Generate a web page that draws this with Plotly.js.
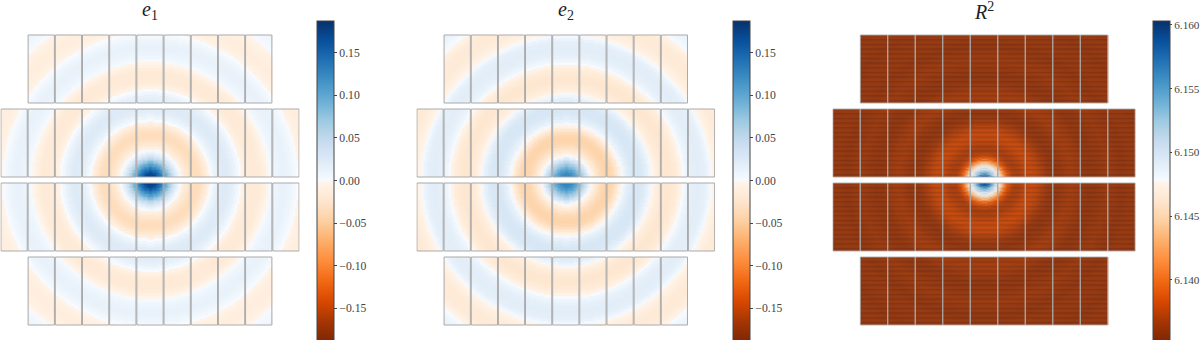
<!DOCTYPE html>
<html>
<head>
<meta charset="utf-8">
<script src="https://cdn.plot.ly/plotly-3.0.1.min.js"></script>
<style>
    html, body { margin: 0; padding: 0; background: #fff; }
    #chart { width: 1200px; height: 340px; }
</style>
</head>
<body>
<div id="chart"></div>
<script>
// ring values, one every ringStep from the focal plane centre
var ringStep = 3;
var e1Rings = [
    0.188, 0.184, 0.172, 0.152, 0.130, 0.105, 0.080, 0.055, 0.033, 0.015, 0.001,
    -0.010, -0.019, -0.026, -0.031, -0.033, -0.032, -0.027, -0.019, -0.009, 0.000,
    0.008, 0.015, 0.020, 0.023, 0.024, 0.023, 0.019, 0.014, 0.007, 0.000,
    -0.006, -0.011, -0.015, -0.017, -0.017, -0.016, -0.013, -0.008, -0.002, 0.003,
    0.007, 0.010, 0.012, 0.013, 0.013, 0.011, 0.008, 0.004, 0.000, -0.004,
    -0.007, -0.009, -0.011, -0.011, -0.010, -0.008, -0.006, -0.002, 0.001, 0.004,
    0.006, 0.008, 0.008, 0.008
];
var e2Rings = [
    0.135, 0.132, 0.124, 0.110, 0.092, 0.072, 0.050, 0.028, 0.006, -0.008, -0.020,
    -0.030, -0.037, -0.041, -0.042, -0.039, -0.032, -0.020, -0.006, 0.006, 0.015,
    0.022, 0.027, 0.030, 0.030, 0.028, 0.024, 0.017, 0.008, -0.002, -0.009,
    -0.015, -0.019, -0.022, -0.022, -0.021, -0.018, -0.013, -0.006, 0.001, 0.008,
    0.013, 0.017, 0.019, 0.020, 0.019, 0.017, 0.012, 0.005, -0.002, -0.007,
    -0.011, -0.014, -0.016, -0.017, -0.016, -0.014, -0.010, -0.005, 0.001, 0.005,
    0.009, 0.011, 0.012, 0.012
];
var r2Rings = [
    6.1603, 6.1590, 6.1562, 6.1527, 6.1495, 6.1470, 6.1438, 6.1405, 6.1385, 6.1374, 6.1369,
    6.1369, 6.1371, 6.1374, 6.1377, 6.1378, 6.1378, 6.1376, 6.1373, 6.1369, 6.1365,
    6.1362, 6.1360, 6.1359, 6.1360, 6.1361, 6.1363, 6.1365, 6.1366, 6.1366, 6.1365,
    6.1364, 6.1362, 6.1360, 6.1359, 6.1359, 6.1359, 6.1360, 6.1361, 6.1362, 6.1363,
    6.1363, 6.1362, 6.1361, 6.1360, 6.1359, 6.1359, 6.1360, 6.1361, 6.1361, 6.1361,
    6.1361, 6.1360, 6.1360, 6.1359, 6.1359, 6.1360, 6.1360, 6.1361, 6.1361, 6.1361,
    6.1360, 6.1360, 6.1360, 6.1360
];
// the cores change fast, so they are read at half the ring step
var e1CoreRings = [
    0.188, 0.187, 0.184, 0.179, 0.172, 0.163, 0.152, 0.141, 0.130, 0.118,
    0.105, 0.092, 0.080, 0.067, 0.055, 0.044, 0.033, 0.023, 0.015, 0.007
];
var e2CoreRings = [
    0.135, 0.134, 0.132, 0.129, 0.124, 0.118, 0.110, 0.102, 0.092, 0.082,
    0.072, 0.061, 0.050, 0.039, 0.028, 0.017, 0.006, -0.001, -0.008, -0.014
];
var r2CoreRings = [
    6.1603, 6.1598, 6.1590, 6.1578, 6.1562, 6.1545, 6.1527, 6.1510, 6.1495, 6.1482,
    6.1470, 6.1455, 6.1438, 6.1420, 6.1405, 6.1393, 6.1385, 6.1379, 6.1374, 6.1371
];
// the thin horizontal stripes seen on the R2 sensors, repeating row by row
var r2RowStripes = [
    0.0002, 0.0003, -0.0001, -0.0006, 0.0001, 0.0003, 0.0001, -0.0002, -0.0005,
    0.0002, 0.0003, 0.0000, -0.0004, -0.0004
];

// focal plane layout, top row of sensors first
var rowChipCounts = [9, 11, 11, 9];
var rowTops = [145, 71, -3, -77];
var rowBottoms = [77, 3, -71, -145];
var chipWidth = 27.2;

var panelTitles = ['<i>e</i><sub>1</sub>', '<i>e</i><sub>2</sub>', '<i>R</i><sup>2</sup>'];
var panelLeft = [0.5, 416.5, 832.7];
var panelRight = [299.5, 715.1, 1135.3];
var colorbarLeft = [316.7, 733, 1153];
var tickLengths = [3, 3, 2];
var tickFontSizes = [11.7, 11.7, 11.2];

var eTicks = [-0.15, -0.10, -0.05, 0.00, 0.05, 0.10, 0.15];
var eTickText = ['\u22120.15', '\u22120.10', '\u22120.05', '0.00', '0.05', '0.10', '0.15'];
var r2Ticks = [6.140, 6.145, 6.150, 6.155, 6.160];
var r2TickText = ['6.140', '6.145', '6.150', '6.155', '6.160'];

var orangeStops = ['#7f2704', '#a63603', '#d94801', '#f16913', '#fd8d3c', '#fdae6b', '#fdd0a2', '#fee6ce', '#fff5eb'];
var blueStops = ['#f7fbff', '#deebf7', '#c6dbef', '#9ecae1', '#6baed6', '#4292c6', '#2171b5', '#08519c', '#08306b'];

var serifFont = '"Liberation Serif", serif';

function buildColorscale() {
    let scale = [];
    for (let i = 0; i < orangeStops.length; ++i) {
        scale.push([0.5 * i / (orangeStops.length - 1), orangeStops[i]]);
    }
    for (let i = 0; i < blueStops.length; ++i) {
        scale.push([0.5 + 0.5 * i / (blueStops.length - 1), blueStops[i]]);
    }
    return scale;
}

// one sensor row as its own grid, so the cells end exactly on the row's edges
function buildRowGrid(row, source) {
    let cellWidth = chipWidth / source.cellsPerChip;
    let nx = rowChipCounts[row] * source.cellsPerChip;
    let cellHeight = (rowTops[row] - rowBottoms[row]) / source.cellsPerRow;
    let coreStep = ringStep / 2;
    let xx = [];
    let yy = [];
    let zz = [];
    for (let i = 0; i < nx; ++i) {
        xx.push((i + 0.5 - nx / 2) * cellWidth);
    }
    for (let j = 0; j < source.cellsPerRow; ++j) {
        let y = rowBottoms[row] + (j + 0.5) * cellHeight;
        let stripe = source.stripes ? source.stripes[j % source.stripes.length] : 0;
        let line = [];
        for (let i = 0; i < nx; ++i) {
            let radius = Math.sqrt(xx[i] * xx[i] + y * y);
            let coreIndex = Math.round(radius / coreStep);
            let value;
            if (coreIndex < source.core.length) {
                value = source.core[coreIndex];
            } else {
                value = source.rings[Math.min(Math.round(radius / ringStep), source.rings.length - 1)];
            }
            line.push(value + stripe);
        }
        yy.push(y);
        zz.push(line);
    }
    return {x: xx, y: yy, z: zz};
}

function buildChipShapes(panel, inset, lineWidth, fillColor) {
    let suffix = panel === 0 ? '' : String(panel + 1);
    let shapes = [];
    for (let row = 0; row < rowChipCounts.length; ++row) {
        let left = -rowChipCounts[row] * chipWidth / 2;
        for (let chip = 0; chip < rowChipCounts[row]; ++chip) {
            shapes.push({
                type: 'rect',
                xref: 'x' + suffix,
                yref: 'y' + suffix,
                x0: left + chip * chipWidth + inset,
                x1: left + (chip + 1) * chipWidth - inset,
                y0: rowBottoms[row],
                y1: rowTops[row],
                fillcolor: fillColor,
                line: {color: '#aaaaaa', width: lineWidth}
            });
        }
    }
    return shapes;
}

function colorAxis(panel, zmin, zmax, ticks, tickText) {
    return {
        cmin: zmin,
        cmax: zmax,
        colorscale: buildColorscale(),
        colorbar: {
            x: colorbarLeft[panel] / 1200,
            xanchor: 'left',
            xpad: 0,
            ypad: 0,
            y: 1 - 20.5 / 340,
            yanchor: 'top',
            len: 319.5 / 340,
            lenmode: 'fraction',
            thickness: 16.5,
            thicknessmode: 'pixels',
            outlinecolor: '#444444',
            outlinewidth: 1,
            tickmode: 'array',
            tickvals: ticks,
            ticktext: tickText,
            ticks: 'outside',
            ticklen: tickLengths[panel],
            tickwidth: 1,
            tickcolor: '#444444',
            tickfont: {family: serifFont, size: tickFontSizes[panel], color: '#444444'}
        }
    };
}

function drawChart() {
    let sources = [
        {rings: e1Rings, core: e1CoreRings, cellsPerChip: 18, cellsPerRow: 46},
        {rings: e2Rings, core: e2CoreRings, cellsPerChip: 18, cellsPerRow: 46},
        {rings: r2Rings, core: r2CoreRings, stripes: r2RowStripes, cellsPerChip: 18, cellsPerRow: 68}
    ];
    let data = [];
    let layout = {
        width: 1200,
        height: 340,
        margin: {l: 0, r: 0, t: 0, b: 0, autoexpand: false},
        paper_bgcolor: '#ffffff',
        plot_bgcolor: '#ffffff',
        showlegend: false,
        shapes: [],
        annotations: [],
        coloraxis: colorAxis(0, -0.188, 0.188, eTicks, eTickText),
        coloraxis2: colorAxis(1, -0.188, 0.188, eTicks, eTickText),
        coloraxis3: colorAxis(2, 6.13525, 6.16035, r2Ticks, r2TickText)
    };

    for (let panel = 0; panel < sources.length; ++panel) {
        let suffix = panel === 0 ? '' : String(panel + 1);
        for (let row = 0; row < rowChipCounts.length; ++row) {
            let grid = buildRowGrid(row, sources[panel]);
            data.push({
                type: 'heatmap',
                x: grid.x,
                y: grid.y,
                z: grid.z,
                zsmooth: 'best',
                coloraxis: 'coloraxis' + suffix,
                xaxis: 'x' + suffix,
                yaxis: 'y' + suffix,
                hoverinfo: 'skip'
            });
        }
        layout['xaxis' + suffix] = {
            domain: [panelLeft[panel] / 1200, panelRight[panel] / 1200],
            range: [-149.6, 149.6],
            visible: false,
            fixedrange: true
        };
        layout['yaxis' + suffix] = {
            domain: [0, 1],
            range: [-160, 180],
            visible: false,
            fixedrange: true
        };
        if (panel === 2) {
            layout.shapes = layout.shapes.concat(buildChipShapes(panel, 0.15, 0.9, 'rgba(128,128,128,0.12)'));
        } else {
            layout.shapes = layout.shapes.concat(buildChipShapes(panel, 0.45, 1, 'rgba(0,0,0,0)'));
        }
        layout.annotations.push({
            text: panelTitles[panel],
            xref: 'paper',
            yref: 'paper',
            x: (panelLeft[panel] + panelRight[panel]) / 2 / 1200,
            y: 1 - 11 / 340,
            xanchor: 'center',
            yanchor: 'middle',
            showarrow: false,
            font: {family: serifFont, size: 20, color: '#222222'}
        });
    }

    Plotly.newPlot('chart', data, layout, {staticPlot: true});
}

drawChart();
</script>
</body>
</html>
